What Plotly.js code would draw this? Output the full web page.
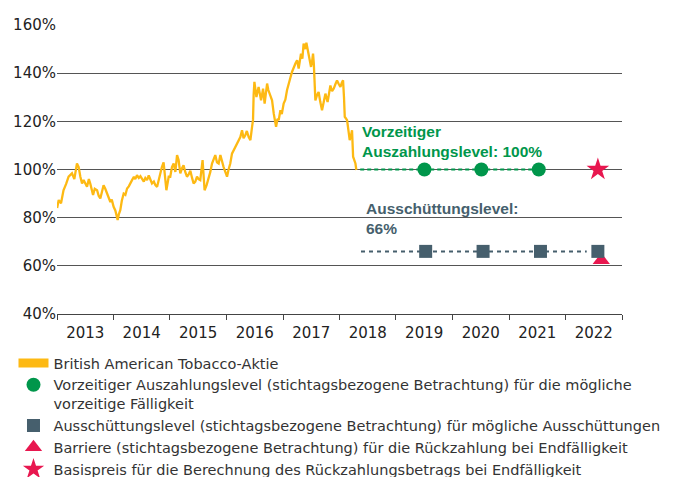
<!DOCTYPE html>
<html>
<head>
<meta charset="utf-8">
<script src="https://cdn.plot.ly/plotly-3.0.1.min.js"></script>
<style>html,body{margin:0;padding:0;background:#fff;}#chart{width:681px;height:477px;}</style>
</head>
<body>
<div id="chart"></div>
<script>
// Stock performance (index, %)
const stockDates = [
"2013-01-02","2013-01-12","2013-01-27","2013-02-12","2013-03-01","2013-03-17","2013-04-08","2013-04-23","2013-05-10","2013-05-21",
"2013-06-01","2013-06-12","2013-06-22","2013-07-14","2013-07-26","2013-08-04","2013-08-22","2013-09-02","2013-09-17","2013-09-28",
"2013-10-08","2013-10-18","2013-10-29","2013-11-09","2013-11-20","2013-12-01","2013-12-12","2013-12-21","2014-01-02","2014-01-13",
"2014-01-19","2014-01-28","2014-02-05","2014-02-14","2014-02-24","2014-03-08","2014-03-19","2014-03-30","2014-04-10","2014-04-20",
"2014-05-01","2014-05-13","2014-05-22","2014-06-02","2014-06-14","2014-06-24","2014-07-05","2014-07-16","2014-07-26","2014-08-06",
"2014-08-17","2014-08-27","2014-09-07","2014-09-19","2014-09-29","2014-10-10","2014-10-21","2014-10-31","2014-11-10","2014-11-21",
"2014-12-02","2014-12-09","2014-12-24","2015-01-03","2015-01-14","2015-01-25","2015-02-05","2015-02-16","2015-02-26","2015-03-09",
"2015-03-20","2015-03-30","2015-04-10","2015-04-21","2015-05-02","2015-05-13","2015-05-24","2015-06-03","2015-06-14","2015-06-25",
"2015-07-05","2015-07-16","2015-07-31","2015-08-07","2015-08-13","2015-08-26","2015-09-08","2015-09-19","2015-09-30","2015-10-10",
"2015-10-21","2015-11-01","2015-11-12","2015-11-23","2015-12-04","2015-12-14","2015-12-25","2016-01-05","2016-01-15","2016-01-26",
"2016-02-06","2016-02-17","2016-02-28","2016-03-10","2016-03-20","2016-03-31","2016-04-11","2016-04-21","2016-05-02","2016-05-12",
"2016-05-24","2016-06-04","2016-06-15","2016-06-21","2016-06-25","2016-06-30","2016-07-13","2016-07-19","2016-07-27","2016-08-12",
"2016-08-25","2016-09-04","2016-09-12","2016-09-20","2016-09-28","2016-10-06","2016-10-22","2016-11-02","2016-11-10","2016-11-17",
"2016-11-26","2016-12-04","2016-12-15","2016-12-24","2017-01-05","2017-01-16","2017-01-27","2017-02-06","2017-02-17","2017-02-28",
"2017-03-11","2017-03-22","2017-04-02","2017-04-12","2017-04-27","2017-05-06","2017-05-14","2017-05-25","2017-06-01","2017-06-09",
"2017-06-16","2017-06-24","2017-07-01","2017-07-08","2017-07-14","2017-07-19","2017-07-22","2017-07-29","2017-08-09","2017-08-19",
"2017-08-30","2017-09-10","2017-09-21","2017-10-02","2017-10-16","2017-10-25","2017-11-03","2017-11-14","2017-11-25","2017-12-06",
"2017-12-16","2017-12-27","2018-01-07","2018-01-16","2018-01-24","2018-01-30","2018-02-04","2018-02-19","2018-02-27","2018-03-08",
"2018-03-16","2018-03-23","2018-03-30","2018-04-07","2018-04-14","2018-04-20"
];
const stockValues = [
84,87.3,86,91.4,94,97,98.4,96,102.5,101,
97,94.2,95.6,92.8,96,94.2,89.4,92,91.4,89,
88,91,93.5,92,90,88.5,86.5,87.5,84.5,83,
81,79,81.5,83.1,87,90,89.5,92.1,93,94.5,
95.6,97,96,97.6,96.5,97.2,96.3,95,96.5,95.6,
97.5,96,94.2,95,93.5,92.8,96,99.5,101,103,
95,91.4,97,97,101,102.5,99,106,103.9,98.4,
100.5,101.8,99,97,98,99.5,96.5,94.2,95,97,
96,95.6,103.9,96,91.4,93.5,96.3,99,102.5,104,
106,103,102.5,106,103,101,99,97,100,102.5,
106.6,108,109.4,110.5,112.2,113.5,116.3,113,114.2,116,
113.5,112.2,117.8,120.6,131,136.4,130.1,132,134.3,128.7,
133.6,127.4,131,135.7,133,131.5,128.7,123.2,119,117.7,
121,120.5,124.6,123,127.4,129,133,135,138,140.5,
142.6,144,145.4,141.9,148.1,146,152.3,150,152.6,149.5,
148.1,145,142.6,145,148.1,144,139.8,128.7,131,132.2,
128,124.6,128,131.5,128,131,134.9,132.5,133.6,135.5,
137,135.5,134.3,136,137,130,121.9,120.5,116,112.2,
114,116.3,105.3,104,102.5,99.8
];

// Product levels
const earlyDates = ["2019-07-04","2020-07-06","2021-07-12"];
const earlyLevel = [100,100,100];
const earlyLineDates = ["2018-05-15","2021-07-12"];
const earlyLineLevel = [100,100];

const couponDates = ["2019-07-12","2020-07-17","2021-07-23","2022-07-29"];
const couponLevel = [66,66,66,66];
const couponLineDates = ["2018-05-20","2022-05-18"];
const couponLineLevel = [66,66];

const barrierDates = ["2022-08-20"];
const barrierLevel = [62.3];
const strikeDates = ["2022-07-29"];
const strikeLevel = [100];

const yTicks = [40,60,80,100,120,140,160];
const yTickText = ["40%","60%","80%","100%","120%","140%","160%"];

const names = {
  stock: "British American Tobacco-Aktie",
  early: "Vorzeitiger Auszahlungslevel (stichtagsbezogene Betrachtung) für die mögliche<br>vorzeitige Fälligkeit",
  coupon: "Ausschüttungslevel (stichtagsbezogene Betrachtung) für mögliche Ausschüttungen",
  barrier: "Barriere (stichtagsbezogene Betrachtung) für die Rückzahlung bei Endfälligkeit",
  strike: "Basispreis für die Berechnung des Rückzahlungsbetrags bei Endfälligkeit"
};

const YELLOW = "#fdb913", GREEN = "#00964b", SLATE = "#465f6d", RED = "#e8174f";

const traces = [
  {x: stockDates, y: stockValues, type: "scatter", mode: "lines", line: {color: YELLOW, width: 2.3}, showlegend: false, hoverinfo: "skip"},
  {x: [null], y: [null], type: "scatter", mode: "lines", line: {color: YELLOW, width: 9}, name: names.stock, legendrank: 1},
  {x: earlyLineDates, y: earlyLineLevel, type: "scatter", mode: "lines", line: {color: GREEN, width: 2.2, dash: "4px,3px"}, showlegend: false},
  {x: couponLineDates, y: couponLineLevel, type: "scatter", mode: "lines", line: {color: SLATE, width: 2, dash: "4px,4px"}, showlegend: false},
  {x: barrierDates, y: barrierLevel, type: "scatter", mode: "markers", marker: {symbol: "triangle-up", size: 15, color: RED}, name: names.barrier, legendrank: 4},
  {x: earlyDates, y: earlyLevel, type: "scatter", mode: "markers", marker: {symbol: "circle", size: 14, color: GREEN}, name: names.early, legendrank: 2},
  {x: couponDates, y: couponLevel, type: "scatter", mode: "markers", marker: {symbol: "square", size: 13, color: SLATE}, name: names.coupon, legendrank: 3},
  {x: strikeDates, y: strikeLevel, type: "scatter", mode: "markers", marker: {symbol: "star", size: 17, color: RED}, name: names.strike, legendrank: 5}
];

const layout = {
  width: 681, height: 477,
  margin: {l: 57, r: 59, t: 25, b: 163, autoexpand: false},
  paper_bgcolor: "#fff", plot_bgcolor: "#fff",
  font: {family: "DejaVu Sans, sans-serif", color: "#222"},
  showlegend: true,
  legend: {
    orientation: "v", x: -0.077, xanchor: "left", y: -0.1142, yanchor: "top",
    font: {family: "DejaVu Sans, sans-serif", size: 14.5, color: "#333"},
    valign: "top", traceorder: "normal", tracegroupgap: 0, bgcolor: "rgba(0,0,0,0)"
  },
  xaxis: {
    type: "date", range: ["2013-01-01", "2023-01-01"],
    tick0: "2013-01-01", dtick: "M12", tickformat: "%Y", ticklabelmode: "period",
    ticks: "outside", ticklen: 5, tickcolor: "#444", tickwidth: 1,
    showline: true, linecolor: "#444", linewidth: 1,
    showgrid: false, zeroline: false,
    tickfont: {family: "DejaVu Sans, sans-serif", size: 15, color: "#222"}
  },
  yaxis: {
    range: [40, 160], tickmode: "array", tickvals: yTicks, ticktext: yTickText,
    showgrid: true, gridcolor: "#555", gridwidth: 1,
    zeroline: false, showline: false, ticks: "",
    tickfont: {family: "DejaVu Sans, sans-serif", size: 15, color: "#222"}
  },
  annotations: [
    {xref: "x", yref: "y", x: "2018-05-12", y: 111.8, xanchor: "left", yanchor: "middle", align: "left", showarrow: false,
     text: "<b>Vorzeitiger<br>Auszahlungslevel: 100%</b>", font: {family: "Liberation Sans, Arial, sans-serif", size: 15.5, color: GREEN}},
    {xref: "x", yref: "y", x: "2018-06-06", y: 79.7, xanchor: "left", yanchor: "middle", align: "left", showarrow: false,
     text: "<b>Ausschüttungslevel:<br>66%</b>", font: {family: "Liberation Sans, Arial, sans-serif", size: 15.5, color: SLATE}}
  ]
};

Plotly.newPlot("chart", traces, layout, {staticPlot: true, displayModeBar: false});
</script>
</body>
</html>
